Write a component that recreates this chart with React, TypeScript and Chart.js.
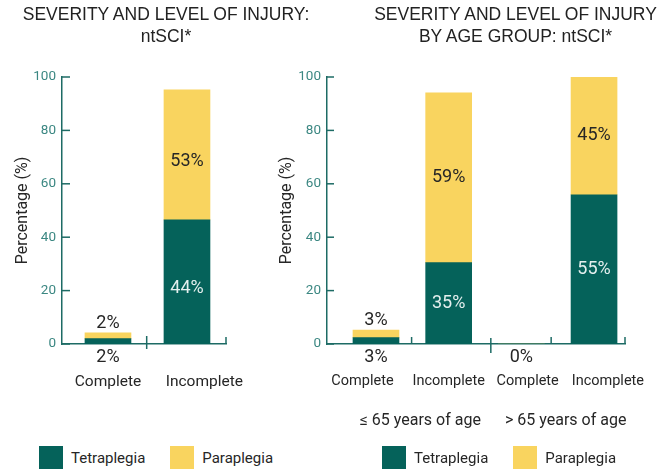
import React, { useEffect, useRef } from 'react';
import { Chart, registerables } from 'chart.js';

Chart.register(...registerables);

// ---------- data ----------
const seriesNames = ['Tetraplegia', 'Paraplegia'];
const yTickValues = [0, 20, 40, 60, 80, 100];
const yAxisTitle = 'Percentage (%)';

const leftTitle = ['SEVERITY AND LEVEL OF INJURY:', 'ntSCI*'];
const leftCategories = ['Complete', 'Incomplete'];
const leftTetra = [2.0, 46.5];
const leftPara = [2.2, 48.7];
const leftTetraLabels = ['2%', '44%'];
const leftParaLabels = ['2%', '53%'];

const rightTitle = ['SEVERITY AND LEVEL OF INJURY', 'BY AGE GROUP: ntSCI*'];
const rightCategories = ['Complete', 'Incomplete', 'Complete', 'Incomplete'];
const rightTetra = [2.4, 30.5, 0, 55.9];
const rightPara = [2.85, 63.6, 0, 44.1];
const rightTetraLabels = ['3%', '35%', '0%', '55%'];
const rightParaLabels = ['3%', '59%', '', '45%'];
const rightGroups = ['\u2264 65 years of age', '> 65 years of age'];

// ---------- styles ----------
const TETRA_COLOR = '#05625a';
const PARA_COLOR = '#f9d45f';
const AXIS_COLOR = '#1d6b65';
const TICK_COLOR = '#3b8782';
const TEXT_COLOR = '#262626';
const INSIDE_LIGHT = '#e4efee';
const FONT = 'Roboto';

type Divider = { value: number | null; up: number; down: number };

type PanelProps = {
  categories: string[];
  tetra: number[];
  para: number[];
  tetraLabels: string[];
  paraLabels: string[];
  groups?: string[];
  width: number;
  height: number;
  xMin: number;
  xMax: number;
  labelAt: number[];
  padRight: number;
  yWidth: number;
  xHeight: number;
  yTitlePad: number;
  catFontSize: number;
  tickLen: number;
  insideShift: number;
  dividers: Divider[];
  groupY?: number;
  groupShift?: number;
};

const annotatePlugin = {
  id: 'annotate',
  afterDatasetsDraw(chart: any, _args: any, opts: any) {
    const ctx = chart.ctx as CanvasRenderingContext2D;
    const { left, right, bottom } = chart.chartArea;
    const xs = chart.scales.x;
    const ys = chart.scales.y;
    ctx.save();
    ctx.strokeStyle = AXIS_COLOR;
    ctx.lineWidth = 1.5;
    // inward y ticks
    ys.ticks.forEach((t: any) => {
      const py = ys.getPixelForValue(t.value);
      ctx.beginPath();
      ctx.moveTo(left, py);
      ctx.lineTo(left + opts.tickLen, py);
      ctx.stroke();
    });
    // x dividers
    (opts.dividers as Divider[]).forEach((d) => {
      const px = d.value === null ? right : xs.getPixelForValue(d.value);
      ctx.beginPath();
      ctx.moveTo(px, bottom - d.up);
      ctx.lineTo(px, bottom + d.down);
      ctx.stroke();
    });
    // value labels
    ctx.font = `18px ${FONT}`;
    ctx.textAlign = 'center';
    ctx.textBaseline = 'middle';
    const m0 = chart.getDatasetMeta(0);
    const m1 = chart.getDatasetMeta(1);
    const shift = opts.insideShift || 0;
    (opts.tetraLabels as string[]).forEach((txt, i) => {
      if (!txt) return;
      const el = m0.data[i];
      const h = el.base - el.y;
      if (h > 25) {
        ctx.fillStyle = INSIDE_LIGHT;
        ctx.fillText(txt, el.x, (el.y + el.base) / 2 + shift);
      } else {
        ctx.fillStyle = TEXT_COLOR;
        ctx.fillText(txt, el.x, bottom + 13);
      }
    });
    (opts.paraLabels as string[]).forEach((txt, i) => {
      if (!txt) return;
      const el = m1.data[i];
      const h = el.base - el.y;
      ctx.fillStyle = TEXT_COLOR;
      if (h > 25) {
        ctx.fillText(txt, el.x, (el.y + el.base) / 2 + shift);
      } else {
        ctx.fillText(txt, el.x, el.y - 9);
      }
    });
    // group labels
    if (opts.groups) {
      ctx.font = `16px ${FONT}`;
      ctx.fillStyle = TEXT_COLOR;
      (opts.groups as string[]).forEach((g, gi) => {
        const a = xs.getPixelForValue(gi * 2);
        const b = xs.getPixelForValue(gi * 2 + 1);
        ctx.fillText(g, (a + b) / 2 + (opts.groupShift || 0), opts.groupY);
      });
    }
    ctx.restore();
  },
};

function Panel(p: PanelProps) {
  const ref = useRef<HTMLCanvasElement>(null);
  useEffect(() => {
    if (!ref.current) return;
    const chart = new Chart(ref.current, {
      type: 'bar',
      data: {
        datasets: [
          {
            label: seriesNames[0],
            data: p.tetra.map((v, i) => ({ x: i, y: v })),
            backgroundColor: TETRA_COLOR,
            stack: 's',
            barThickness: 46,
          },
          {
            label: seriesNames[1],
            data: p.para.map((v, i) => ({ x: i, y: v })),
            backgroundColor: PARA_COLOR,
            stack: 's',
            barThickness: 46,
          },
        ],
      },
      options: {
        responsive: false,
        animation: false,
        layout: { padding: { top: 77, right: p.padRight, bottom: 0, left: 0 } },
        plugins: {
          legend: { display: false },
          tooltip: { enabled: false },
          title: { display: false },
          annotate: {
            tickLen: p.tickLen,
            dividers: p.dividers,
            tetraLabels: p.tetraLabels,
            paraLabels: p.paraLabels,
            groups: p.groups,
            groupY: p.groupY,
            groupShift: p.groupShift,
            insideShift: p.insideShift,
          },
        } as any,
        scales: {
          x: {
            type: 'linear',
            offset: false,
            min: p.xMin,
            max: p.xMax,
            grid: { display: false, drawTicks: false, offset: false },
            border: { display: true, color: AXIS_COLOR, width: 1.5 },
            afterBuildTicks: (scale: any) => {
              scale.ticks = p.labelAt.map((v) => ({ value: v }));
            },
            afterFit: (scale: any) => {
              scale.height = p.xHeight;
              scale.paddingLeft = 0;
              scale.paddingRight = 0;
            },
            ticks: {
              autoSkip: false,
              maxRotation: 0,
              minRotation: 0,
              padding: 29,
              color: TEXT_COLOR,
              font: { family: FONT, size: p.catFontSize },
              callback: (_v: any, idx: number) => p.categories[idx],
            },
          },
          y: {
            stacked: true,
            min: 0,
            max: 100,
            grid: { display: false, drawTicks: false },
            border: { display: true, color: AXIS_COLOR, width: 1.5 },
            afterBuildTicks: (scale: any) => {
              scale.ticks = yTickValues.map((v) => ({ value: v }));
            },
            afterFit: (scale: any) => {
              scale.width = p.yWidth;
            },
            ticks: {
              padding: 6,
              color: TICK_COLOR,
              font: { family: FONT, size: 13.5 },
            },
            title: {
              display: true,
              text: yAxisTitle,
              color: TEXT_COLOR,
              font: { family: FONT, size: 16, lineHeight: 1.2 },
              padding: { top: p.yTitlePad, bottom: 0 },
            },
          },
        },
      },
      plugins: [annotatePlugin as any],
    });
    return () => chart.destroy();
  }, []);
  return <canvas ref={ref} width={p.width} height={p.height} style={{ display: 'block' }} />;
}

function Legend({ left }: { left: number }) {
  const colors = [TETRA_COLOR, PARA_COLOR];
  return (
    <div
      style={{
        position: 'absolute',
        left,
        top: 446,
        display: 'flex',
        alignItems: 'center',
        fontFamily: FONT,
        fontSize: 15,
        lineHeight: '24px',
        color: TEXT_COLOR,
      }}
    >
      {seriesNames.map((n, i) => (
        <div key={n} style={{ display: 'flex', alignItems: 'center', marginRight: i === 0 ? 25 : 0 }}>
          <div style={{ width: 24, height: 24, background: colors[i], marginRight: 8 }} />
          <span>{n}</span>
        </div>
      ))}
    </div>
  );
}

function Title({ lines, left, width }: { lines: string[]; left: number; width: number }) {
  return (
    <div
      style={{
        position: 'absolute',
        left,
        top: 3,
        width,
        textAlign: 'center',
        whiteSpace: 'nowrap',
        fontFamily: '"Liberation Sans", Arial, sans-serif',
        fontSize: 17.5,
        lineHeight: '22px',
        color: '#222',
      }}
    >
      {lines.map((l) => (
        <div key={l}>{l}</div>
      ))}
    </div>
  );
}

export default function App() {
  return (
    <div
      style={{
        position: 'absolute',
        left: 0,
        top: 0,
        width: 668,
        height: 469,
        overflow: 'hidden',
        background: '#fff',
      }}
    >
      <div style={{ position: 'absolute', left: 0, top: 0 }}>
        <Panel
          categories={leftCategories}
          tetra={leftTetra}
          para={leftPara}
          tetraLabels={leftTetraLabels}
          paraLabels={leftParaLabels}
          width={300}
          height={400}
          xMin={-0.582}
          xMax={1.494}
          labelAt={[0, 1.22]}
          padRight={74}
          yWidth={62}
          xHeight={56}
          yTitlePad={13.5}
          catFontSize={15.5}
          tickLen={8}
          insideShift={7}
          dividers={[
            { value: 0.49, up: 8, down: 5 },
            { value: null, up: 7, down: 0 },
          ]}
        />
      </div>
      <div style={{ position: 'absolute', left: 270, top: 0 }}>
        <Panel
          categories={rightCategories}
          tetra={rightTetra}
          para={rightPara}
          tetraLabels={rightTetraLabels}
          paraLabels={rightParaLabels}
          groups={rightGroups}
          width={398}
          height={440}
          xMin={-0.674}
          xMax={3.426}
          labelAt={[-0.186, 1, 2.087, 3.19]}
          padRight={43}
          yWidth={57}
          xHeight={96}
          yTitlePad={7.4}
          catFontSize={14.5}
          tickLen={7}
          insideShift={0}
          groupY={421}
          groupShift={8}
          dividers={[
            { value: 0.49, up: 7, down: 0 },
            { value: 1.58, up: 6, down: 9 },
            { value: 2.41, up: 7, down: 0 },
            { value: null, up: 7, down: 0 },
          ]}
        />
      </div>
      <Title lines={leftTitle} left={0} width={332} />
      <Title lines={rightTitle} left={365} width={301} />
      <Legend left={39} />
      <Legend left={382} />
    </div>
  );
}
